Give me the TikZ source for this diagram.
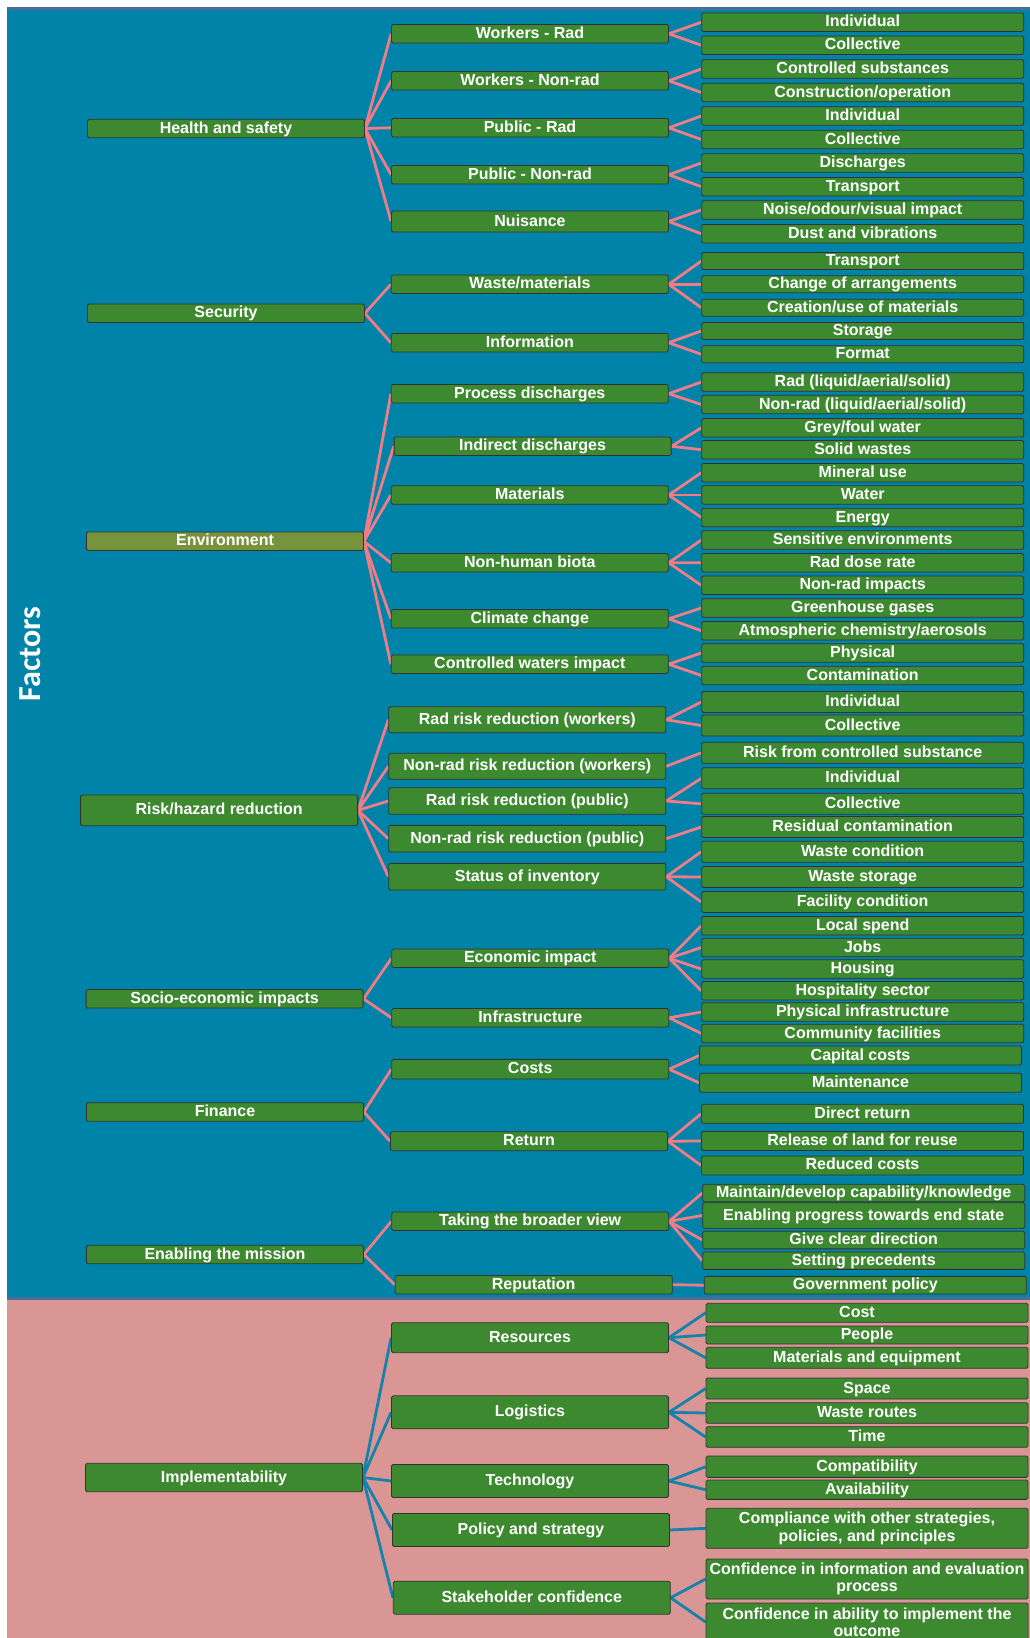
\documentclass[tikz,border=0pt]{standalone}
\usepackage{fontspec}
\setmainfont{Liberation Sans}
\newfontfamily\factorsfont{Carlito}
\definecolor{factorblue}{RGB}{0,131,168}
\definecolor{implpink}{RGB}{217,150,148}
\definecolor{boxgreen}{RGB}{61,137,47}
\definecolor{envolive}{RGB}{119,147,60}
\definecolor{edgeline}{RGB}{74,110,150}
\definecolor{linkpink}{RGB}{240,124,136}
\definecolor{linkblue}{RGB}{20,130,170}
\pgfdeclarelayer{back}
\pgfsetlayers{back,main}
\tikzset{
  cell/.style={draw=black!80, line width=0.8pt, fill=boxgreen, rounded corners=1.5pt, text=white, inner sep=0pt, font=\bfseries\fontsize{16}{17.3}\selectfont, minimum height=18.5pt},
  oneline/.style={text height=11.5pt, text depth=2.5pt},
  factorbox/.style={cell, oneline, minimum width=277pt},
  subbox/.style={cell, oneline, minimum width=277pt},
  itembox/.style={cell, oneline, minimum width=322pt},
  twoline/.style={cell, minimum width=322pt, align=center},
  plink/.style={draw=linkpink, line width=2.8pt},
  blink/.style={draw=linkblue, line width=2.8pt}
}
\begin{document}
\begin{tikzpicture}[x=1pt,y=-1pt]
	\useasboundingbox (0,0) rectangle (1030,1638);
	\begin{pgfonlayer}{back}
	\fill[factorblue] (7,7) rectangle (1030,1298);
	\fill[implpink] (7,1298) rectangle (1030,1638);
	\draw[edgeline, line width=3pt] (7,8.5) -- (1030,8.5);
	\draw[edgeline, line width=3pt] (7,1298.3) -- (1030,1298.3);
	\end{pgfonlayer}
	\node[rotate=90, text=white, inner sep=0pt, font=\factorsfont\bfseries\fontsize{32}{34}\selectfont] (fac) at (30.7,653.7) {Factors};
	\node[factorbox] (hs) at (226,128.5) {Health and safety};
	\node[factorbox] (sec) at (226,313.3) {Security};
	\node[factorbox, fill=envolive] (env) at (225,541.3) {Environment};
	\node[factorbox, minimum height=30.7pt] (risk) at (219.1,810.3) {Risk/hazard reduction};
	\node[factorbox] (soc) at (224.6,998.8) {Socio-economic impacts};
	\node[factorbox] (fin) at (225,1112) {Finance};
	\node[factorbox] (ena) at (225,1254.5) {Enabling the mission};
	\node[factorbox, minimum height=28.4pt] (impl) at (224,1477.5) {Implementability};
	\node[subbox] (wrad) at (530,33.8) {Workers - Rad};
	\node[subbox] (wnon) at (530,80.8) {Workers - Non-rad};
	\node[subbox] (prad) at (530,127.8) {Public - Rad};
	\node[subbox] (pnon) at (530,174.7) {Public - Non-rad};
	\node[subbox, minimum height=21pt] (nuis) at (530,221.5) {Nuisance};
	\node[subbox] (wmat) at (529.8,284.3) {Waste/materials};
	\node[subbox] (info) at (529.8,342.7) {Information};
	\node[subbox] (pdis) at (529.8,393.7) {Process discharges};
	\node[subbox] (idis) at (532.6,446.3) {Indirect discharges};
	\node[subbox] (mats) at (529.8,495) {Materials};
	\node[subbox] (biota) at (529.8,562.8) {Non-human biota};
	\node[subbox] (clim) at (529.8,618.8) {Climate change};
	\node[subbox] (cwat) at (529.8,664.2) {Controlled waters impact};
	\node[subbox, minimum height=26pt] (rrw) at (527.3,719.7) {Rad risk reduction (workers)};
	\node[subbox, minimum height=26pt] (nrw) at (527.3,766.3) {Non-rad risk reduction (workers)};
	\node[subbox, minimum height=26.6pt] (rrp) at (527.3,801) {Rad risk reduction (public)};
	\node[subbox, minimum height=26.7pt] (nrp) at (527.3,838.7) {Non-rad risk reduction (public)};
	\node[subbox, minimum height=26.7pt] (inv) at (527.3,876.7) {Status of inventory};
	\node[subbox] (econ) at (530.3,958.3) {Economic impact};
	\node[subbox] (infra) at (530.3,1017.8) {Infrastructure};
	\node[subbox, minimum height=19.7pt] (costs) at (530.2,1069.2) {Costs};
	\node[subbox, minimum height=19pt] (ret) at (529,1141.2) {Return};
	\node[subbox] (broad) at (530.2,1221.3) {Taking the broader view};
	\node[subbox] (repu) at (533.7,1284.7) {Reputation};
	\node[subbox, minimum height=30pt] (res) at (530,1337.7) {Resources};
	\node[subbox, minimum height=33pt] (logi) at (530,1412.3) {Logistics};
	\node[subbox, minimum height=33pt] (tech) at (530,1481) {Technology};
	\node[subbox, minimum height=33pt] (pol) at (531,1530) {Policy and strategy};
	\node[subbox, minimum height=33pt] (stake) at (531.8,1597.7) {Stakeholder confidence};
	\node[itembox] (wrad1) at (862.7,22.2) {Individual};
	\node[itembox] (wrad2) at (862.7,45.2) {Collective};
	\node[itembox] (wnon1) at (862.7,69) {Controlled substances};
	\node[itembox] (wnon2) at (862.7,92.5) {Construction/operation};
	\node[itembox] (prad1) at (862.7,116) {Individual};
	\node[itembox] (prad2) at (862.7,139.5) {Collective};
	\node[itembox] (pnon1) at (862.7,163) {Discharges};
	\node[itembox] (pnon2) at (862.7,186.7) {Transport};
	\node[itembox] (nuis1) at (862.7,210) {Noise/odour/visual impact};
	\node[itembox] (nuis2) at (862.7,233.8) {Dust and vibrations};
	\node[itembox, minimum height=17pt] (wmat1) at (862.7,261) {Transport};
	\node[itembox, minimum height=17pt] (wmat2) at (862.7,284.3) {Change of arrangements};
	\node[itembox, minimum height=17pt] (wmat3) at (862.7,307.7) {Creation/use of materials};
	\node[itembox, minimum height=17pt] (info1) at (862.7,331) {Storage};
	\node[itembox, minimum height=17pt] (info2) at (862.7,354.3) {Format};
	\node[itembox] (pdis1) at (862.7,382) {Rad (liquid/aerial/solid)};
	\node[itembox] (pdis2) at (862.7,404.5) {Non-rad (liquid/aerial/solid)};
	\node[itembox] (idis1) at (862.7,427.8) {Grey/foul water};
	\node[itembox] (idis2) at (862.7,449.7) {Solid wastes};
	\node[itembox] (mats1) at (862.7,472.7) {Mineral use};
	\node[itembox] (mats2) at (862.7,495) {Water};
	\node[itembox] (mats3) at (862.7,517.5) {Energy};
	\node[itembox] (biota1) at (862.7,540) {Sensitive environments};
	\node[itembox] (biota2) at (862.7,562.7) {Rad dose rate};
	\node[itembox] (biota3) at (862.7,585.3) {Non-rad impacts};
	\node[itembox] (clim1) at (862.7,608) {Greenhouse gases};
	\node[itembox] (clim2) at (862.7,630.7) {Atmospheric chemistry/aerosols};
	\node[itembox] (cwat1) at (862.7,653) {Physical};
	\node[itembox] (cwat2) at (862.7,675.5) {Contamination};
	\node[itembox, minimum height=21pt] (rrw1) at (862.7,702) {Individual};
	\node[itembox, minimum height=21pt] (rrw2) at (862.7,725.5) {Collective};
	\node[itembox, minimum height=21pt] (nrw1) at (862.7,752.8) {Risk from controlled substance};
	\node[itembox, minimum height=21pt] (rrp1) at (862.7,778.3) {Individual};
	\node[itembox, minimum height=21pt] (rrp2) at (862.7,803.8) {Collective};
	\node[itembox, minimum height=21pt] (nrp1) at (862.7,827) {Residual contamination};
	\node[itembox, minimum height=21pt] (inv1) at (862.7,851.7) {Waste condition};
	\node[itembox, minimum height=21pt] (inv2) at (862.7,877) {Waste storage};
	\node[itembox, minimum height=21pt] (inv3) at (862.7,902) {Facility condition};
	\node[itembox] (econ1) at (862.7,925.8) {Local spend};
	\node[itembox] (econ2) at (862.7,947.5) {Jobs};
	\node[itembox] (econ3) at (862.7,969) {Housing};
	\node[itembox] (econ4) at (862.7,990.8) {Hospitality sector};
	\node[itembox] (infra1) at (862.7,1012) {Physical infrastructure};
	\node[itembox] (infra2) at (862.7,1033.5) {Community facilities};
	\node[itembox, minimum height=19pt] (costs1) at (860.5,1055.5) {Capital costs};
	\node[itembox, minimum height=19pt] (costs2) at (860.5,1082.8) {Maintenance};
	\node[itembox, minimum height=19pt] (ret1) at (862.5,1113.8) {Direct return};
	\node[itembox, minimum height=19pt] (ret2) at (862.5,1141) {Release of land for reuse};
	\node[itembox, minimum height=19pt] (ret3) at (862.5,1165.4) {Reduced costs};
	\node[itembox, minimum height=17.4pt] (broad1) at (863.7,1193) {Maintain/develop capability/knowledge};
	\node[itembox, minimum height=25.6pt] (broad2) at (863.7,1215.5) {Enabling progress towards end state};
	\node[itembox, minimum height=17.7pt] (broad3) at (863.7,1240) {Give clear direction};
	\node[itembox, minimum height=17.3pt] (broad4) at (863.7,1260.7) {Setting precedents};
	\node[itembox, minimum height=17.7pt] (repu1) at (865.3,1285.2) {Government policy};
	\node[itembox, minimum height=19pt] (res1) at (867,1312.8) {Cost\hspace*{20pt}};
	\node[itembox, minimum height=18pt] (res2) at (867,1335) {People};
	\node[itembox, minimum height=21pt] (res3) at (867,1357.8) {Materials and equipment};
	\node[itembox, minimum height=21pt] (logi1) at (867,1388.5) {Space};
	\node[itembox, minimum height=20.6pt] (logi2) at (867,1413) {Waste routes};
	\node[itembox, minimum height=20.6pt] (logi3) at (867,1437) {Time};
	\node[itembox, minimum height=21.3pt] (tech1) at (867,1466.7) {Compatibility};
	\node[itembox, minimum height=19.3pt] (tech2) at (867,1489.7) {Availability};
	\node[twoline, minimum height=40pt] (pol1) at (867,1528.3) {Compliance with other strategies,\\policies, and principles};
	\node[twoline, minimum height=40pt] (stake1) at (867,1579) {Confidence in information and evaluation\\process};
	\node[twoline, minimum height=38pt] (stake2) at (867,1622) {Confidence in ability to implement the\\outcome};
	\begin{pgfonlayer}{back}
	\draw[plink] (hs.east) -- (wrad.west);
	\draw[plink] (hs.east) -- (wnon.west);
	\draw[plink] (hs.east) -- (prad.west);
	\draw[plink] (hs.east) -- (pnon.west);
	\draw[plink] (hs.east) -- (nuis.west);
	\draw[plink] (wrad.east) -- (wrad1.west);
	\draw[plink] (wrad.east) -- (wrad2.west);
	\draw[plink] (wnon.east) -- (wnon1.west);
	\draw[plink] (wnon.east) -- (wnon2.west);
	\draw[plink] (prad.east) -- (prad1.west);
	\draw[plink] (prad.east) -- (prad2.west);
	\draw[plink] (pnon.east) -- (pnon1.west);
	\draw[plink] (pnon.east) -- (pnon2.west);
	\draw[plink] (nuis.east) -- (nuis1.west);
	\draw[plink] (nuis.east) -- (nuis2.west);
	\draw[plink] (sec.east) -- (wmat.west);
	\draw[plink] (sec.east) -- (info.west);
	\draw[plink] (wmat.east) -- (wmat1.west);
	\draw[plink] (wmat.east) -- (wmat2.west);
	\draw[plink] (wmat.east) -- (wmat3.west);
	\draw[plink] (info.east) -- (info1.west);
	\draw[plink] (info.east) -- (info2.west);
	\draw[plink] (env.east) -- (pdis.west);
	\draw[plink] (env.east) -- (idis.west);
	\draw[plink] (env.east) -- (mats.west);
	\draw[plink] (env.east) -- (biota.west);
	\draw[plink] (env.east) -- (clim.west);
	\draw[plink] (env.east) -- (cwat.west);
	\draw[plink] (pdis.east) -- (pdis1.west);
	\draw[plink] (pdis.east) -- (pdis2.west);
	\draw[plink] (idis.east) -- (idis1.west);
	\draw[plink] (idis.east) -- (idis2.west);
	\draw[plink] (mats.east) -- (mats1.west);
	\draw[plink] (mats.east) -- (mats2.west);
	\draw[plink] (mats.east) -- (mats3.west);
	\draw[plink] (biota.east) -- (biota1.west);
	\draw[plink] (biota.east) -- (biota2.west);
	\draw[plink] (biota.east) -- (biota3.west);
	\draw[plink] (clim.east) -- (clim1.west);
	\draw[plink] (clim.east) -- (clim2.west);
	\draw[plink] (cwat.east) -- (cwat1.west);
	\draw[plink] (cwat.east) -- (cwat2.west);
	\draw[plink] (risk.east) -- (rrw.west);
	\draw[plink] (risk.east) -- (nrw.west);
	\draw[plink] (risk.east) -- (rrp.west);
	\draw[plink] (risk.east) -- (nrp.west);
	\draw[plink] (risk.east) -- (inv.west);
	\draw[plink] (rrw.east) -- (rrw1.west);
	\draw[plink] (rrw.east) -- (rrw2.west);
	\draw[plink] (nrw.east) -- (nrw1.west);
	\draw[plink] (rrp.east) -- (rrp1.west);
	\draw[plink] (rrp.east) -- (rrp2.west);
	\draw[plink] (nrp.east) -- (nrp1.west);
	\draw[plink] (inv.east) -- (inv1.west);
	\draw[plink] (inv.east) -- (inv2.west);
	\draw[plink] (inv.east) -- (inv3.west);
	\draw[plink] (soc.east) -- (econ.west);
	\draw[plink] (soc.east) -- (infra.west);
	\draw[plink] (econ.east) -- (econ1.west);
	\draw[plink] (econ.east) -- (econ2.west);
	\draw[plink] (econ.east) -- (econ3.west);
	\draw[plink] (econ.east) -- (econ4.west);
	\draw[plink] (infra.east) -- (infra1.west);
	\draw[plink] (infra.east) -- (infra2.west);
	\draw[plink] (fin.east) -- (costs.west);
	\draw[plink] (fin.east) -- (ret.west);
	\draw[plink] (costs.east) -- (costs1.west);
	\draw[plink] (costs.east) -- (costs2.west);
	\draw[plink] (ret.east) -- (ret1.west);
	\draw[plink] (ret.east) -- (ret2.west);
	\draw[plink] (ret.east) -- (ret3.west);
	\draw[plink] (ena.east) -- (broad.west);
	\draw[plink] (ena.east) -- (repu.west);
	\draw[plink] (broad.east) -- (broad1.west);
	\draw[plink] (broad.east) -- (broad2.west);
	\draw[plink] (broad.east) -- (broad3.west);
	\draw[plink] (broad.east) -- (broad4.west);
	\draw[plink] (repu.east) -- (repu1.west);
	\draw[blink] (impl.east) -- (res.west);
	\draw[blink] (impl.east) -- (logi.west);
	\draw[blink] (impl.east) -- (tech.west);
	\draw[blink] (impl.east) -- (pol.west);
	\draw[blink] (impl.east) -- (stake.west);
	\draw[blink] (res.east) -- (res1.west);
	\draw[blink] (res.east) -- (res2.west);
	\draw[blink] (res.east) -- (res3.west);
	\draw[blink] (logi.east) -- (logi1.west);
	\draw[blink] (logi.east) -- (logi2.west);
	\draw[blink] (logi.east) -- (logi3.west);
	\draw[blink] (tech.east) -- (tech1.west);
	\draw[blink] (tech.east) -- (tech2.west);
	\draw[blink] (pol.east) -- (pol1.west);
	\draw[blink] (stake.east) -- (stake1.west);
	\draw[blink] (stake.east) -- (stake2.west);
	\end{pgfonlayer}
\end{tikzpicture}
\end{document}
